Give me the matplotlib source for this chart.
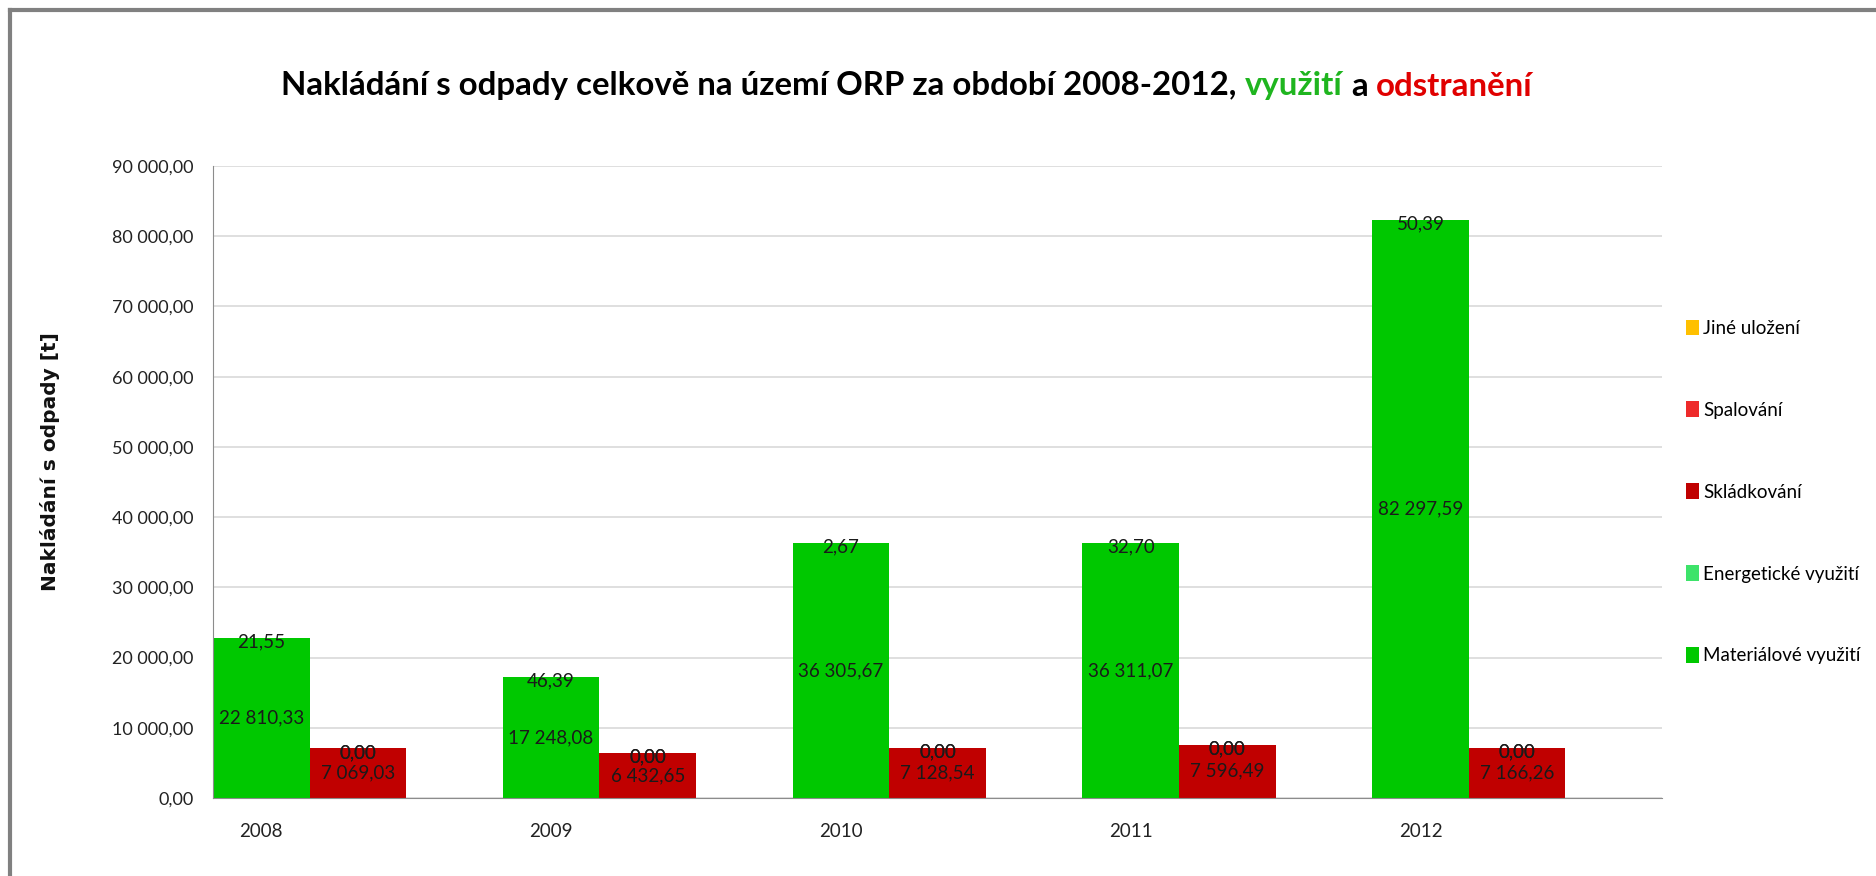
import numpy as np
import matplotlib
matplotlib.use("Agg")
import matplotlib.pyplot as plt
from matplotlib.lines import Line2D
from matplotlib.patches import Patch
from matplotlib.offsetbox import TextArea, HPacker, AnchoredOffsetbox

plt.rcParams['font.family'] = ['Lato', 'DejaVu Sans']

# data (tuny)
years = ["2008", "2009", "2010", "2011", "2012"]
materialove = [22810.33, 17248.08, 36305.67, 36311.07, 82297.59]
energeticke = [21.55, 46.39, 2.67, 32.70, 50.39]
skladkovani = [7069.03, 6432.65, 7128.54, 7596.49, 7166.26]
spalovani = [0.0, 0.0, 0.0, 0.0, 0.0]
jine_ulozeni = [0.0, 0.0, 0.0, 0.0, 0.0]
y_ticks = [0, 10000, 20000, 30000, 40000, 50000, 60000, 70000, 80000, 90000]

c_mat = "#00c800"
c_ene = "#3de36a"
c_skl = "#c00000"
c_spa = "#ee2a2a"
c_jin = "#ffc000"
txt_c = "#1a1a1a"


def cz(v):
    # 22810.33 -> "22 810,33"
    s = f"{v:,.2f}"
    return s.replace(",", " ").replace(".", ",")


fig = plt.figure(figsize=(18.76, 8.76), dpi=100)
ax = fig.add_axes([213 / 1876, 1 - 798 / 876, (1662 - 213) / 1876, (798 - 166) / 876])

x = np.arange(len(years))
w = 1 / 3
xg = x - 0.5
xr = x - 0.5 + w

mat = np.array(materialove)
ene = np.array(energeticke)
skl = np.array(skladkovani)
spa = np.array(spalovani)
jin = np.array(jine_ulozeni)

ax.bar(xg, mat, width=w, align="edge", color=c_mat, zorder=2)
ax.bar(xg, ene, width=w, align="edge", bottom=mat, color=c_ene, zorder=2)
ax.bar(xr, skl, width=w, align="edge", color=c_skl, zorder=2)
ax.bar(xr, spa, width=w, align="edge", bottom=skl, color=c_spa, zorder=2)
ax.bar(xr, jin, width=w, align="edge", bottom=skl + spa, color=c_jin, zorder=2)

# popisky hodnot
fs = 13.5
for i in range(len(years)):
    cg = xg[i] + w / 2
    cr = xr[i] + w / 2
    ax.text(cg, mat[i] / 2, cz(mat[i]), ha="center", va="center", fontsize=fs, color=txt_c, zorder=3)
    ax.annotate(cz(ene[i]), (cg, mat[i] + ene[i] / 2), xytext=(0, -3), textcoords="offset points",
                ha="center", va="center", fontsize=fs, color=txt_c, zorder=3)
    ax.text(cr, skl[i] / 2, cz(skl[i]), ha="center", va="center", fontsize=fs, color=txt_c, zorder=3)
    ax.annotate(cz(spa[i]), (cr, skl[i] + spa[i] / 2), xytext=(0, -3), textcoords="offset points",
                ha="center", va="center", fontsize=fs, color=txt_c, zorder=3)
    ax.annotate(cz(jin[i]), (cr, skl[i] + spa[i] + jin[i] / 2), xytext=(0, -3), textcoords="offset points",
                ha="center", va="center", fontsize=fs, color=txt_c, zorder=3)

ax.set_xlim(-0.5, len(years) - 0.5)
ax.set_ylim(0, 90000)
ax.set_yticks(y_ticks)
ax.set_yticklabels([cz(t) for t in y_ticks], fontsize=13, color="#222222")
ax.set_xticks(xg + w / 2)
ax.set_xticklabels(years, fontsize=13.5, color="#222222")
ax.tick_params(axis="both", length=0)
ax.tick_params(axis="y", pad=14)
ax.tick_params(axis="x", pad=18)
ax.grid(axis="y", color="#d9d9d9", linewidth=1.2, zorder=0)
for s in ["top", "right"]:
    ax.spines[s].set_visible(False)
ax.spines["left"].set_color("#8c8c8c")
ax.spines["bottom"].set_color("#8c8c8c")

fig.text(50 / 1876, 1 - 462 / 876, "Nakládání s odpady [t]", rotation=90, ha="center", va="center",
         fontsize=14.5, fontweight="bold", family="DejaVu Sans", color="#111111")

# titulek se zvyraznenymi slovy
tprops = dict(fontsize=23.8, fontweight="bold")
parts = [
    ("Nakládání s odpady celkově na území ORP za období 2008-2012,", "#000000"),
    ("využití", "#1fb51f"),
    ("a", "#000000"),
    ("odstranění", "#e00000"),
]
boxes = [TextArea(t, textprops=dict(color=c, **tprops)) for t, c in parts]
pack = HPacker(children=boxes, pad=0, sep=6, align="baseline")
anch = AnchoredOffsetbox(loc="center", child=pack, frameon=False, pad=0, borderpad=0,
                         bbox_to_anchor=(907 / 1876, 1 - 86 / 876), bbox_transform=fig.transFigure)
fig.add_artist(anch)

# legenda
leg_labels = ["Jiné uložení", "Spalování", "Skládkování", "Energetické využití", "Materiálové využití"]
leg_colors = [c_jin, c_spa, c_skl, c_ene, c_mat]
handles = [Patch(facecolor=c, edgecolor="none") for c in leg_colors]
fig.legend(handles, leg_labels, loc="center left", bbox_to_anchor=(1686 / 1876, 1 - 492 / 876),
           frameon=False, fontsize=13.5, handlelength=0.7, handleheight=0.9, handletextpad=0.2,
           labelspacing=3.45, borderpad=0, borderaxespad=0)

# ramecek
fig.add_artist(Line2D([10 / 1876, 1], [1 - 10 / 876, 1 - 10 / 876], color="#808080", linewidth=3,
                      transform=fig.transFigure))
fig.add_artist(Line2D([10 / 1876, 10 / 1876], [0, 1 - 10 / 876], color="#808080", linewidth=3,
                      transform=fig.transFigure))

fig.savefig("out.png", dpi=100, facecolor="white")
